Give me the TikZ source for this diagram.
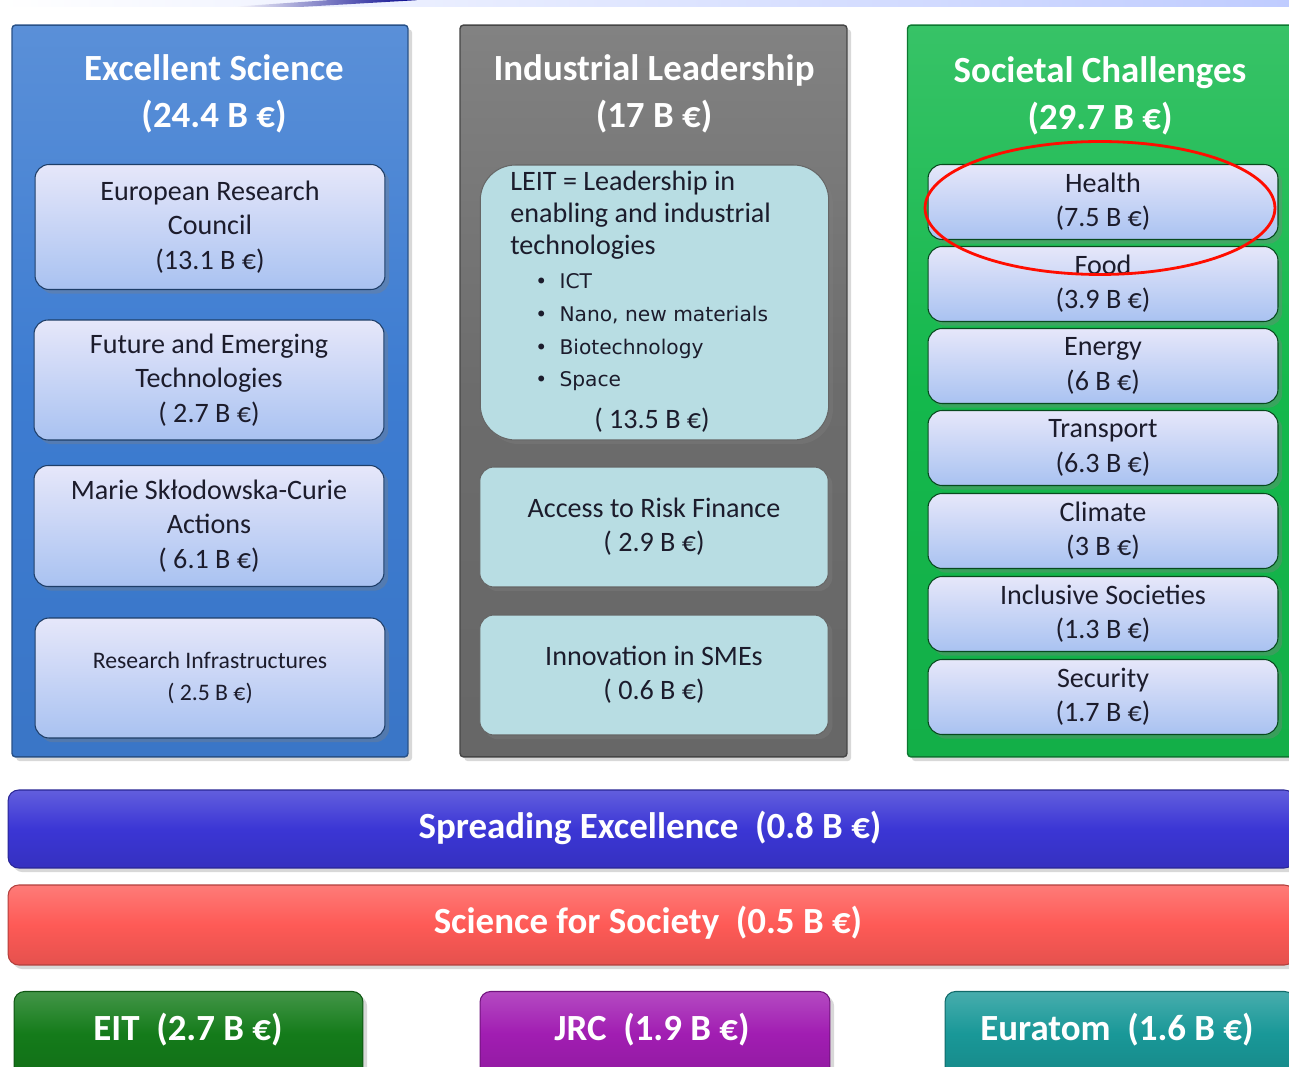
\documentclass[tikz,border=0pt]{standalone}
\usepackage{fontspec}
\setmainfont{Carlito}
\newfontfamily\verd{DejaVu Sans}
\usepackage{tikz}
\usetikzlibrary{shadows,shapes.geometric}
\definecolor{esblue}{HTML}{3D7CD1}
\definecolor{ilgray}{HTML}{6C6C6C}
\definecolor{scgreen}{HTML}{14B84C}
\definecolor{tilelo}{HTML}{A9C2F1}
\definecolor{tilehi}{HTML}{E6E7FA}
\definecolor{leitcyan}{HTML}{B8DDE3}
\definecolor{spreadblue}{HTML}{3B36D5}
\definecolor{socred}{HTML}{FE5A56}
\definecolor{eitgreen}{HTML}{147B1A}
\definecolor{jrcpurple}{HTML}{A11DB2}
\definecolor{euratomteal}{HTML}{199898}
\definecolor{ink}{HTML}{1C1C2C}

\begin{document}
\begin{tikzpicture}[x=0.02cm, y=-0.02cm,
    pillar/.style={draw=#1!65!black, line width=0.8pt, rounded corners=2pt,
      top color=#1!85!white, bottom color=#1!95!black, middle color=#1,
      minimum height=14.64cm, drop shadow={opacity=.3}},
    head/.style={text=white, align=center, font=\fontsize{21}{27}\selectfont\bfseries},
    tile/.style={draw=#1, line width=0.6pt, rounded corners=8pt, minimum width=7cm,
      top color=tilehi, bottom color=tilelo, text=ink, align=center,
      font=\fontsize{16}{19.5}\selectfont, drop shadow={opacity=.35}},
    cyantile/.style={draw=gray!80!black, line width=0.6pt, rounded corners=8pt, minimum width=6.97cm,
      fill=leitcyan, text=ink, align=center,
      font=\fontsize{16}{19.5}\selectfont, drop shadow={opacity=.35}},
    bar/.style={draw=#1!70!black, line width=0.6pt, rounded corners=6pt,
      top color=#1!80!white, bottom color=#1!90!black, middle color=#1,
      text=white, font=\fontsize{21}{25}\selectfont\bfseries, drop shadow={opacity=.3}}]
  \useasboundingbox (0,0) rectangle (1289,1067);
  \clip (0,0) rectangle (1289,1067);
  \fill[white] (0,0) rectangle (1289,1067);
  % banner at the top edge
  \shade[left color=white, right color=cyan!20!blue!25] (0,0) rectangle (1289,7);
  \shade[left color=white, right color=blue!55!black, rounded corners=3pt] (230,7) -- (330,0) -- (420,0) -- (300,7) -- cycle;

  % three pillars
  \node[pillar=esblue, minimum width=7.92cm] (es) at (210,391) {};
  \node[pillar=ilgray, minimum width=7.74cm] (il) at (653.5,391) {};
  \node[pillar=scgreen, minimum width=7.7cm] (sc) at (1100,391) {};
  \node[head] (esh) at (214,94) {Excellent Science\\(24.4 B €)};
  \node[head] (ilh) at (654,94) {Industrial Leadership\\(17 B €)};
  \node[head] (sch) at (1100,96) {Societal Challenges\\(29.7 B €)};

  % excellent science
  \node[tile=esblue!50!black, minimum height=2.5cm] (erc) at (210,227) {European Research\\Council\\(13.1 B €)};
  \node[tile=esblue!50!black, minimum height=2.4cm] (fet) at (209,380) {Future and Emerging\\Technologies\\( 2.7 B €)};
  \node[tile=esblue!50!black, minimum height=2.42cm] (msca) at (209,526) {Marie Skłodowska-Curie\\Actions\\( 6.1 B €)};
  \node[tile=esblue!50!black, minimum height=2.4cm, font=\fontsize{13.5}{18}\selectfont] (ri) at (210,678) {Research Infrastructures\\( 2.5 B €)};

  % industrial leadership
  \node[cyantile, rounded corners=20pt, minimum height=5.5cm] (leit) at (654.5,302.5) {};
  \node[anchor=north west, align=left, text=ink, font=\fontsize{16}{18.2}\selectfont, inner sep=0pt] (leitt) at (510,171)
    {LEIT = Leadership in\\enabling and industrial\\technologies};
  \node[anchor=north west, align=left, text=ink, font=\verd\fontsize{11.5}{18.7}\selectfont, inner sep=0pt] (leitb) at (535,273)
    {\textbullet\hspace{7pt}ICT\\\textbullet\hspace{7pt}Nano, new materials\\\textbullet\hspace{7pt}Biotechnology\\\textbullet\hspace{7pt}Space};
  \node[text=ink, font=\fontsize{16}{19.5}\selectfont] (leita) at (652,420) {( 13.5 B €)};
  \node[cyantile, minimum height=2.4cm] (arf) at (654,527) {Access to Risk Finance\\( 2.9 B €)};
  \node[cyantile, minimum height=2.4cm] (sme) at (654,675) {Innovation in SMEs\\( 0.6 B €)};

  % societal challenges
  \node[tile=scgreen!40!black, minimum height=1.5cm] (hea) at (1103,202) {Health\\(7.5 B €)};
  \node[tile=scgreen!40!black, minimum height=1.5cm] (foo) at (1103,284) {Food\\(3.9 B €)};
  \node[tile=scgreen!40!black, minimum height=1.5cm] (ene) at (1103,366) {Energy\\(6 B €)};
  \node[tile=scgreen!40!black, minimum height=1.5cm] (tra) at (1103,448) {Transport\\(6.3 B €)};
  \node[tile=scgreen!40!black, minimum height=1.5cm] (cli) at (1103,531) {Climate\\(3 B €)};
  \node[tile=scgreen!40!black, minimum height=1.5cm] (inc) at (1103,614) {Inclusive Societies\\(1.3 B €)};
  \node[tile=scgreen!40!black, minimum height=1.5cm] (sec) at (1103,697) {Security\\(1.7 B €)};
  \node[ellipse, draw=red!90!orange, line width=1.6pt, minimum width=7cm, minimum height=2.66cm] (ring) at (1100,208) {};

  % horizontal bars
  \node[bar=spreadblue, minimum width=25.74cm, minimum height=1.56cm] (spr) at (651.5,829) {};
  \node[text=white, font=\fontsize{21}{25}\selectfont\bfseries] (sprt) at (650,828) {Spreading Excellence~ (0.8 B €)};
  \node[bar=socred, minimum width=25.74cm, minimum height=1.6cm] (soc) at (651.5,925) {};
  \node[text=white, font=\fontsize{21}{25}\selectfont\bfseries] (soct) at (648,923) {Science for Society~ (0.5 B €)};
  \node[bar=eitgreen, minimum width=6.98cm, minimum height=1.7cm] (eit) at (188.5,1034) {};
  \node[text=white, font=\fontsize{21}{25}\selectfont\bfseries] (eitt) at (188,1030) {EIT~ (2.7 B €)};
  \node[bar=jrcpurple, minimum width=7cm, minimum height=1.7cm] (jrc) at (655,1034) {};
  \node[text=white, font=\fontsize{21}{25}\selectfont\bfseries] (jrct) at (652,1030) {JRC~ (1.9 B €)};
  \node[bar=euratomteal, minimum width=7cm, minimum height=1.7cm] (eur) at (1120,1034) {};
  \node[text=white, font=\fontsize{21}{25}\selectfont\bfseries] (eurt) at (1117,1030) {Euratom~ (1.6 B €)};
\end{tikzpicture}
\end{document}
